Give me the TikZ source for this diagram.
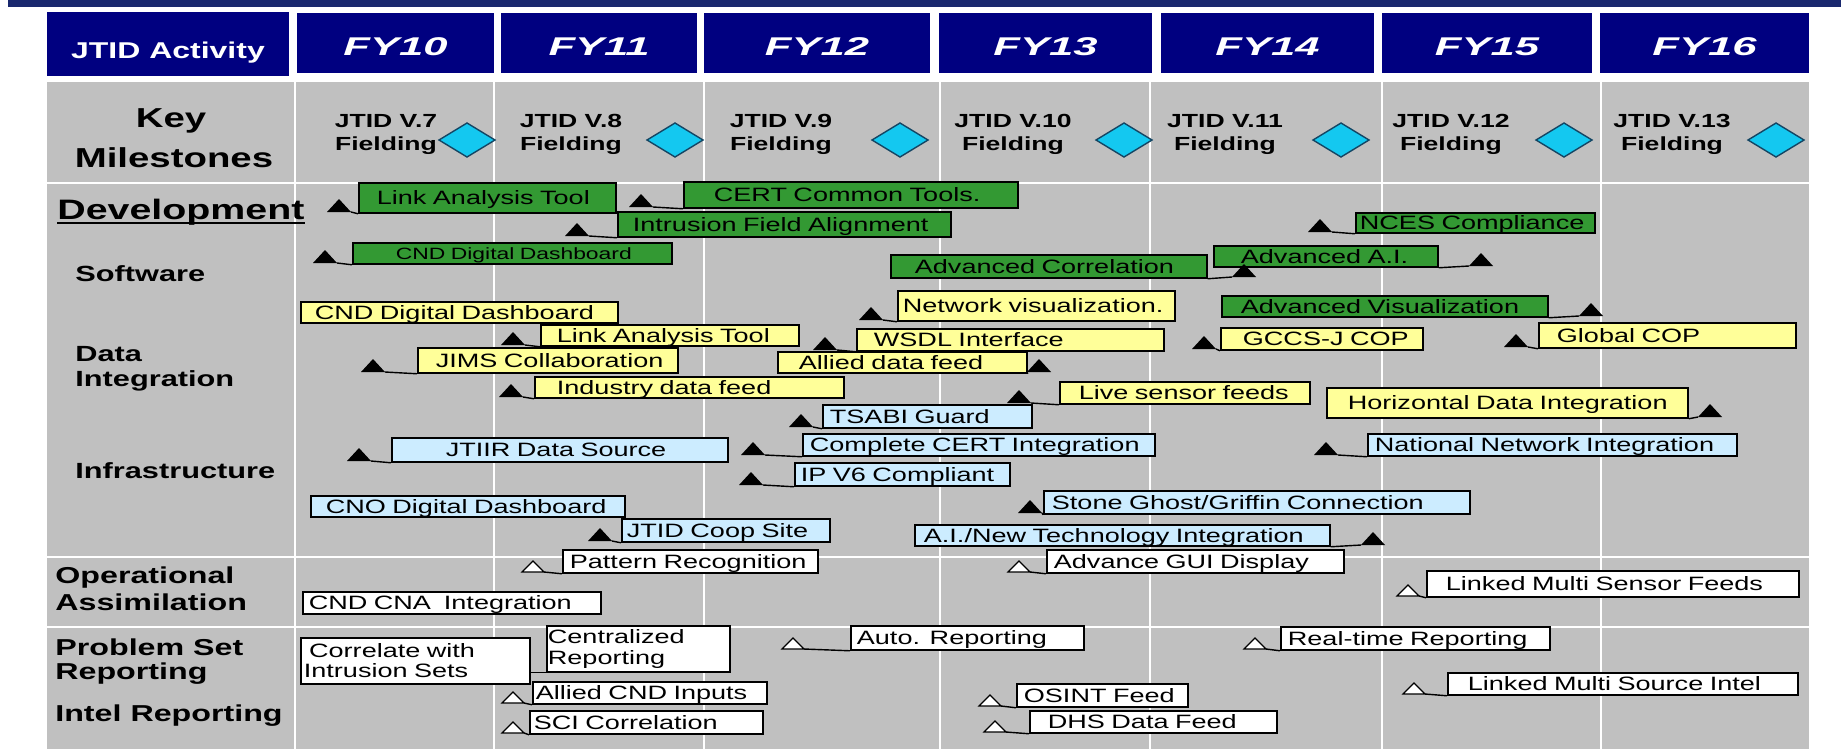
\documentclass[tikz,border=0pt]{standalone}
\usepackage{fontspec}
\setmainfont{Liberation Sans}
\newfontfamily\wfont[FakeStretch=1.4]{Liberation Sans}
\newfontfamily\fyfont[FakeStretch=1.7]{Liberation Sans}

\definecolor{band}{RGB}{25,40,110}
\definecolor{hdrnavy}{RGB}{0,0,128}
\definecolor{cellgrey}{RGB}{192,192,192}
\definecolor{swgreen}{RGB}{51,153,51}
\definecolor{diyellow}{RGB}{255,255,153}
\definecolor{infblue}{RGB}{204,236,255}
\definecolor{msfill}{RGB}{20,200,240}
\definecolor{msline}{RGB}{20,70,100}

% task box: name, style, x1, y1, x2, y2, left padding, label
\newcommand{\gtask}[8]{%
  \edef\tkw{\fpeval{(#5-#3-2*(#7))*0.02}}%
  \edef\tkh{\fpeval{(#6-#4)*0.02}}%
  \edef\tkp{\fpeval{(#7)*0.02}}%
  \node[#2, anchor=north west, inner xsep=\tkp cm, minimum height=\tkh cm,
        text width=\tkw cm] (#1) at (#3,#4) {\makebox[0pt][l]{#8}};}
% filled milestone triangle: name, centre x, base y
\newcommand{\fillmark}[3]{%
  \fill[black] (#2-12,#3) -- (#2,#3-13) -- (#2+12,#3) -- cycle;
  \coordinate (#1-l) at (#2-12,#3);
  \coordinate (#1-r) at (#2+12,#3);}
% open milestone triangle
\newcommand{\openmark}[3]{%
  \filldraw[fill=white, draw=black, line width=0.7pt] (#2-11,#3) -- (#2,#3-11) -- (#2+11,#3) -- cycle;
  \coordinate (#1-l) at (#2-11,#3);
  \coordinate (#1-r) at (#2+11,#3);}

\begin{document}
\begin{tikzpicture}[x=0.02cm, y=-0.02cm,
  gridw/.style={white, line width=0.05cm},
  tb/.style={draw=black, line width=1pt, inner ysep=0pt, align=left,
    font=\wfont\fontsize{11}{12}\selectfont, text height=9pt, text depth=1.12pt},
  tbsmall/.style={font=\wfont\fontsize{9.3}{11}\selectfont, text height=7.6pt, text depth=0.94pt},
  grn/.style={tb, fill=swgreen},
  yel/.style={tb, fill=diyellow},
  blu/.style={tb, fill=infblue},
  wht/.style={tb, fill=white},
  link/.style={black, line width=0.8pt},
  hdrtxt/.style={anchor=base, inner sep=0pt, text=white, font=\wfont\bfseries\fontsize{13}{15}\selectfont},
  fytxt/.style={anchor=base, inner sep=0pt, text=white, font=\fyfont\bfseries\itshape\fontsize{14.6}{16}\selectfont},
  keylab/.style={anchor=base, inner sep=0pt, font=\wfont\bfseries\fontsize{15.6}{18}\selectfont},
  rowlab/.style={anchor=base west, inner sep=0pt, font=\wfont\bfseries\fontsize{12.5}{14}\selectfont},
  rowlabb/.style={anchor=base west, inner sep=0pt, font=\wfont\bfseries\fontsize{13.1}{15}\selectfont},
  mstxt/.style={anchor=base, inner sep=0pt, font=\wfont\bfseries\fontsize{10.8}{12}\selectfont},
  msshape/.style={fill=msfill, draw=msline, line width=0.8pt}
]
\useasboundingbox (0,0) rectangle (1841,755);
\fill[white] (0,0) rectangle (1841,755);
\fill[band] (8,0) rectangle (1841,7);

% header row
\fill[hdrnavy] (47,12) rectangle (289,76);
\foreach \a/\b in {297/494,501/697,704/930,939/1152,1161/1374,1382/1592,1600/1809}
  \fill[hdrnavy] (\a,13) rectangle (\b,73);
\node[hdrtxt] (hact) at (168,58) {JTID Activity};
\node[fytxt] (fy10) at (395.5,55) {FY10};
\node[fytxt] (fy11) at (599,55) {FY11};
\node[fytxt] (fy12) at (817,55) {FY12};
\node[fytxt] (fy13) at (1045.5,55) {FY13};
\node[fytxt] (fy14) at (1267.5,55) {FY14};
\node[fytxt] (fy15) at (1487,55) {FY15};
\node[fytxt] (fy16) at (1704.5,55) {FY16};

% body grid
\fill[cellgrey] (47,82) rectangle (1809,749);
\foreach \x in {295,494,704,940,1150,1382,1601} \draw[gridw] (\x,82) -- (\x,749);
\foreach \y in {183,557,627} \draw[gridw] (47,\y) -- (1809,\y);

% row labels
\node[keylab] (lkey) at (171,127) {Key};
\node[keylab] (lmile) at (174,167) {Milestones};
\node[rowlab, font=\wfont\bfseries\fontsize{16}{18}\selectfont] (ldev) at (57,219) {Development};
\draw[line width=1.4pt] ([yshift=-2.2pt]ldev.base west) -- ([yshift=-2.2pt]ldev.base east);
\node[rowlab] (lsw) at (75,281) {Software};
\node[rowlab] (ldata) at (75,361) {Data};
\node[rowlab] (ldint) at (75,386) {Integration};
\node[rowlab] (linf) at (75,478) {Infrastructure};
\node[rowlabb] (lop) at (55,583) {Operational};
\node[rowlabb] (las) at (55,610) {Assimilation};
\node[rowlabb] (lps) at (55,655) {Problem Set};
\node[rowlabb] (lrep) at (55,679) {Reporting};
\node[rowlabb] (lint) at (55,721) {Intel Reporting};

% key milestones
\foreach \v/\cx/\dx in {7/386/467, 8/571/675, 9/781/900, 10/1013/1124, 11/1225/1341, 12/1451/1564, 13/1672/1776}{
  \node[mstxt] (mv\v) at (\cx,127) {JTID V.\v};
  \node[mstxt] (mf\v) at (\cx,150) {Fielding};
  \filldraw[msshape] (\dx-28,140) -- (\dx,123) -- (\dx+28,140) -- (\dx,157) -- cycle;
}

% software
\gtask{sw1}{grn}{358}{182}{615}{212}{18}{Link Analysis Tool}
\gtask{sw2}{grn}{683}{181}{1017}{207}{30}{CERT Common Tools.}
\gtask{sw3}{grn}{617}{211}{950}{236}{15}{Intrusion Field Alignment}
\gtask{sw4}{grn,tbsmall}{352}{242}{671}{263}{43}{CND Digital Dashboard}
\gtask{sw5}{grn}{890}{254}{1206}{277}{24}{Advanced Correlation}
\gtask{sw6}{grn}{1213}{245}{1437}{266}{27}{Advanced A.I.}
\gtask{sw7}{grn}{1355}{212}{1594}{232}{4}{NCES Compliance}
\gtask{sw8}{grn}{1221}{295}{1547}{316}{19}{Advanced Visualization}

% data integration
\gtask{di1}{yel}{300}{301}{617}{322}{14}{CND Digital Dashboard}
\gtask{di2}{yel}{540}{324}{798}{345}{16}{Link Analysis Tool}
\gtask{di3}{yel}{417}{347}{677}{372}{18}{JIMS Collaboration}
\gtask{di4}{yel}{534}{376}{843}{397}{22}{Industry data feed}
\gtask{di5}{yel}{897}{290}{1174}{320}{5}{Network visualization.}
\gtask{di6}{yel}{856}{328}{1163}{350}{17}{WSDL Interface}
\gtask{di7}{yel}{777}{351}{1026}{372}{21}{Allied data feed}
\gtask{di8}{yel}{1220}{327}{1422}{349}{22}{GCCS-J COP}
\gtask{di9}{yel}{1538}{322}{1795}{347}{18}{Global COP}
\gtask{di10}{yel}{1059}{381}{1309}{403}{19}{Live sensor feeds}
\gtask{di11}{yel}{1326}{387}{1687}{417}{21}{Horizontal Data Integration}

% infrastructure
\gtask{in1}{blu}{391}{437}{727}{461}{54}{JTIIR Data Source}
\gtask{in2}{blu}{822}{404}{1031}{427}{7}{TSABI Guard}
\gtask{in3}{blu}{802}{433}{1154}{455}{7}{Complete CERT Integration}
\gtask{in4}{blu}{794}{462}{1009}{485}{6}{IP V6 Compliant}
\gtask{in5}{blu}{310}{495}{624}{516}{15}{CNO Digital Dashboard}
\gtask{in6}{blu}{621}{518}{829}{541}{5}{JTID Coop Site}
\gtask{in7}{blu}{1043}{490}{1469}{513}{8}{Stone Ghost/Griffin Connection}
\gtask{in8}{blu}{914}{524}{1329}{545}{9}{A.I./New Technology Integration}
\gtask{in9}{blu}{1367}{433}{1736}{455}{7}{National Network Integration}

% operational assimilation, problem set and intel reporting
\gtask{oa1}{wht}{562}{549}{817}{572}{7}{Pattern Recognition}
\gtask{oa2}{wht}{1046}{549}{1343}{572}{7}{Advance GUI Display}
\gtask{oa3}{wht}{302}{591}{600}{613}{6}{CND CNA\ \ Integration}
\gtask{oa4}{wht}{1426}{570}{1798}{596}{19}{Linked Multi Sensor Feeds}
\node[draw=black, line width=1pt, fill=white, anchor=north west, align=left,
      inner xsep=0.06cm, inner ysep=0pt, minimum height=0.92cm, text width=4.46cm,
      font=\wfont\fontsize{11}{11.4}\selectfont] (ps1) at (300,637)
      {\hspace*{3pt}Correlate with\\Intrusion Sets};
\node[draw=black, line width=1pt, fill=white, anchor=north west, align=left,
      inner xsep=0.02cm, inner ysep=0pt, minimum height=0.92cm, text width=3.62cm,
      font=\wfont\fontsize{11}{12}\selectfont] (ps2) at (546,625)
      {Centralized\\Reporting};
\gtask{ps3}{wht}{850}{625}{1083}{649}{6}{Auto. Reporting}
\gtask{ps4}{wht}{1280}{626}{1549}{649}{7}{Real-time Reporting}
\gtask{ir1}{wht}{532}{681}{766}{703}{3}{Allied CND Inputs}
\gtask{ir2}{wht}{529}{710}{762}{733}{4}{SCI Correlation}
\gtask{ir3}{wht}{1016}{683}{1187}{706}{7}{OSINT Feed}
\gtask{ir4}{wht}{1029}{710}{1276}{732}{18}{DHS Data Feed}
\gtask{ir5}{wht}{1447}{672}{1797}{694}{20}{Linked Multi Source Intel}

% milestone markers and their leader lines
\fillmark{t1}{339}{212}   \draw[link] (t1-r) -- (sw1.south west);
\fillmark{t2}{641}{207}   \draw[link] (t2-r) -- (sw2.south west);
\fillmark{t3}{577}{236}   \draw[link] (t3-r) -- (sw3.south west);
\fillmark{t4}{325}{263}   \draw[link] (t4-r) -- (sw4.south west);
\fillmark{t5}{1244}{277}  \draw[link] (sw5.south east) -- (t5-l);
\fillmark{t6}{1481}{266}  \draw[link] (sw6.south east) -- (t6-l);
\fillmark{t7}{1320}{232}  \draw[link] (t7-r) -- (sw7.south west);
\fillmark{t8}{1591}{316}  \draw[link] (sw8.south east) -- (t8-l);
\fillmark{t9}{513}{345}   \draw[link] (t9-r) -- (di2.south west);
\fillmark{t10}{373}{372}  \draw[link] (t10-r) -- (di3.south west);
\fillmark{t11}{511}{397}  \draw[link] (t11-r) -- (di4.south west);
\fillmark{t12}{871}{320}  \draw[link] (t12-r) -- (di5.south west);
\fillmark{t13}{825}{350}  \draw[link] (t13-r) -- (di6.south west);
\fillmark{t14}{1039}{372} \draw[link] (di7.south east) -- (t14-l);
\fillmark{t15}{1204}{349} \draw[link] (t15-r) -- (di8.south west);
\fillmark{t16}{1516}{347} \draw[link] (t16-r) -- (di9.south west);
\fillmark{t17}{1019}{403} \draw[link] (t17-r) -- (di10.south west);
\fillmark{t18}{1710}{417} \draw[link] (di11.south east) -- (t18-l);
\fillmark{t19}{359}{461}  \draw[link] (t19-r) -- (in1.south west);
\fillmark{t20}{801}{427}  \draw[link] (t20-r) -- (in2.south west);
\fillmark{t21}{753}{455}  \draw[link] (t21-r) -- (in3.south west);
\fillmark{t22}{751}{485}  \draw[link] (t22-r) -- (in4.south west);
\fillmark{t23}{600}{541}  \draw[link] (t23-r) -- (in6.south west);
\fillmark{t24}{1030}{513} \draw[link] (t24-r) -- (in7.south west);
\fillmark{t25}{1373}{545} \draw[link] (in8.south east) -- (t25-l);
\fillmark{t26}{1326}{455} \draw[link] (t26-r) -- (in9.south west);

\openmark{h1}{533}{572}   \draw[link] (h1-r) -- (oa1.south west);
\openmark{h2}{1019}{572}  \draw[link] (h2-r) -- (oa2.south west);
\openmark{h3}{1408}{596}  \draw[link] (h3-r) -- (oa4.south west);
\openmark{h4}{793}{649}   \draw[link] (h4-r) -- (ps3.south west);
\openmark{h5}{1255}{649}  \draw[link] (h5-r) -- (ps4.south west);
\openmark{h6}{513}{703}   \draw[link] (h6-r) -- (ir1.south west);
\openmark{h7}{513}{733}   \draw[link] (h7-r) -- (ir2.south west);
\openmark{h8}{990}{706}   \draw[link] (h8-r) -- (ir3.south west);
\openmark{h9}{995}{732}   \draw[link] (h9-r) -- (ir4.south west);
\openmark{h10}{1414}{694} \draw[link] (h10-r) -- (ir5.south west);
\draw[link] (ps1.east |- ps2.south west) -- (ps2.south west);
\end{tikzpicture}
\end{document}
